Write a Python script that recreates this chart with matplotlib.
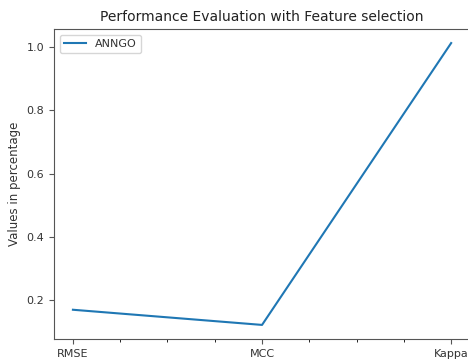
import matplotlib
matplotlib.use('Agg')
import matplotlib.pyplot as plt
from matplotlib.ticker import AutoMinorLocator

metrics = ['RMSE', 'MCC', 'Kappa']
anngo = [0.169, 0.121, 1.013]

fig = plt.figure(figsize=(4.68, 3.62), dpi=100)
ax = fig.add_axes([0.1154, 0.0635, 0.889, 0.8565])
ax.plot(metrics, anngo, label='ANNGO', linewidth=1.5)
ax.set_title('Performance Evaluation with Feature selection', fontsize=10, color='#222222')
ax.set_ylabel('Values in percentage', fontsize=8.5, color='#333333')
ax.tick_params(labelsize=8, labelcolor='#333333', color='#555555')
for s in ax.spines.values():
    s.set_color('#555555')
ax.xaxis.set_minor_locator(AutoMinorLocator(4))
leg = ax.legend(loc='upper left', fontsize=8)
for t in leg.get_texts():
    t.set_color('#333333')

fig.savefig('out.png', dpi=100)
